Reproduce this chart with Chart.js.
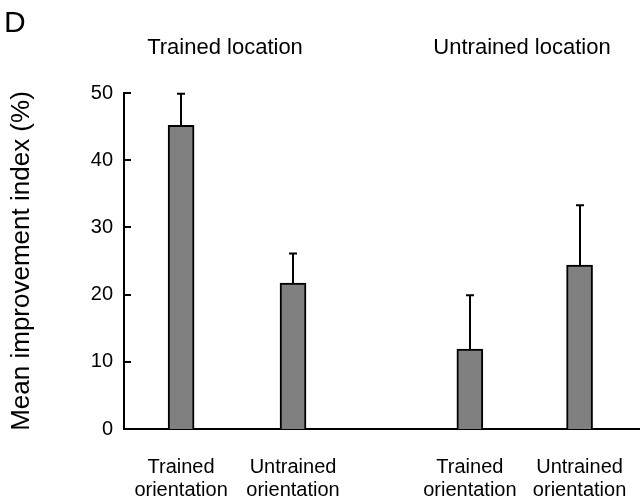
<!DOCTYPE html>
<html>
<head>
<meta charset="utf-8">
<script src="https://cdn.jsdelivr.net/npm/chart.js@4"></script>
<style>
  html, body { margin: 0; padding: 0; background: #fff; }
  #wrap { width: 640px; height: 502px; }
</style>
</head>
<body>
<div id="wrap"><canvas id="chart" width="640" height="502"></canvas></div>
<script>
// Mean improvement index per condition, with the upper standard error
const panelLetter = 'D';
const groupTitles = ['Trained location', 'Untrained location'];
const conditionLabels = [
  ['Trained', 'orientation'],
  ['Untrained', 'orientation'],
  ['Trained', 'orientation'],
  ['Untrained', 'orientation']
];
const conditionPositions = [1, 2, 3.58, 4.56];
const meanImprovement = [45.2, 21.7, 11.9, 24.4];
const standardError = [4.7, 4.4, 8.0, 8.9];
const yTickValues = [0, 10, 20, 30, 40, 50];

const FONT = '"Liberation Sans", Arial, sans-serif';

// Upward-only error whiskers with a small cap
const errorBarPlugin = {
  id: 'errorBars',
  afterDatasetsDraw(chart) {
    const xs = chart.scales.x, ys = chart.scales.y;
    const ctx = chart.ctx;
    ctx.save();
    ctx.strokeStyle = '#000';
    ctx.lineWidth = 2;
    meanImprovement.forEach((m, i) => {
      const x = Math.round(xs.getPixelForValue(conditionPositions[i]));
      const y0 = ys.getPixelForValue(m);
      const y1 = ys.getPixelForValue(m + standardError[i]);
      ctx.beginPath();
      ctx.moveTo(x, y0);
      ctx.lineTo(x, y1);
      ctx.moveTo(x - 4, y1);
      ctx.lineTo(x + 4, y1);
      ctx.stroke();
    });
    ctx.restore();
  }
};

// Inward tick marks on the value axis
const innerTickPlugin = {
  id: 'innerTicks',
  afterDraw(chart) {
    const ys = chart.scales.y;
    const left = chart.chartArea.left;
    const ctx = chart.ctx;
    ctx.save();
    ctx.strokeStyle = '#000';
    ctx.lineWidth = 2;
    yTickValues.forEach(v => {
      if (v === 0) return;
      const y = Math.round(ys.getPixelForValue(v));
      ctx.beginPath();
      ctx.moveTo(left, y);
      ctx.lineTo(left + 7, y);
      ctx.stroke();
    });
    ctx.restore();
  }
};

// Panel letter and group headings
const headingPlugin = {
  id: 'headings',
  afterDraw(chart) {
    const ctx = chart.ctx;
    ctx.save();
    ctx.fillStyle = '#000';
    ctx.textBaseline = 'middle';
    ctx.textAlign = 'left';
    ctx.font = '30px ' + FONT;
    ctx.fillText(panelLetter, 4, 24);
    ctx.textAlign = 'center';
    ctx.font = '22px ' + FONT;
    ctx.fillText(groupTitles[0], 225, 48);
    ctx.fillText(groupTitles[1], 522, 48);
    ctx.restore();
  }
};

new Chart(document.getElementById('chart'), {
  type: 'bar',
  data: {
    datasets: [{
      data: conditionPositions.map((x, i) => ({ x: x, y: meanImprovement[i] })),
      backgroundColor: '#808080',
      borderColor: '#000',
      borderWidth: 2,
      borderSkipped: 'start',
      barThickness: 26
    }]
  },
  options: {
    responsive: false,
    animation: false,
    events: [],
    layout: { padding: { top: 93, right: 0, left: 0, bottom: 0 } },
    plugins: { legend: { display: false }, tooltip: { enabled: false } },
    scales: {
      x: {
        type: 'linear',
        offset: false,
        min: 0.49,
        max: 5.1,
        grid: { display: false, drawTicks: false },
        border: { display: true, color: '#000', width: 2 },
        afterBuildTicks(scale) {
          scale.ticks = conditionPositions.map(v => ({ value: v }));
        },
        afterFit(scale) {
          scale.height = 502 - 429;
          scale.paddingLeft = 0;
          scale.paddingRight = 0;
        },
        ticks: {
          padding: 27,
          color: '#000',
          autoSkip: false,
          maxRotation: 0,
          font: { family: FONT, size: 20, lineHeight: 1.15 },
          callback(value) {
            const i = conditionPositions.indexOf(value);
            return i >= 0 ? conditionLabels[i] : '';
          }
        }
      },
      y: {
        min: 0,
        max: 50,
        grid: { display: false, drawTicks: false },
        border: { display: true, color: '#000', width: 2 },
        afterBuildTicks(scale) {
          scale.ticks = yTickValues.map(v => ({ value: v }));
        },
        afterFit(scale) {
          scale.width = 124;
          scale.paddingTop = 0;
          scale.paddingBottom = 0;
        },
        ticks: {
          padding: 11,
          color: '#000',
          font: { family: FONT, size: 20 }
        },
        title: {
          display: true,
          text: 'Mean improvement index (%)',
          color: '#000',
          font: { family: FONT, size: 26 },
          padding: { top: 6, bottom: 0 }
        }
      }
    }
  },
  plugins: [errorBarPlugin, innerTickPlugin, headingPlugin]
});
</script>
</body>
</html>
